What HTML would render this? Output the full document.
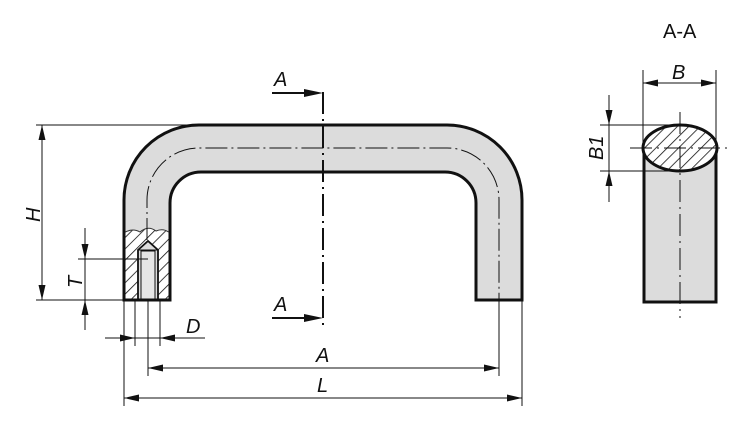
<!DOCTYPE html>
<html><head><style>
html,body{margin:0;padding:0;background:#fff}
svg{display:block}
text{font-family:"Liberation Sans",sans-serif;font-style:italic;font-size:20px;fill:#111}
</style></head><body>
<svg width="750" height="423" viewBox="0 0 750 423" xmlns="http://www.w3.org/2000/svg">
<defs>
<pattern id="h" patternUnits="userSpaceOnUse" width="8" height="8" patternTransform="rotate(45)">
<rect width="8" height="8" fill="#fff"/><line x1="0" y1="0" x2="0" y2="8" stroke="#111" stroke-width="1.6"/>
</pattern>
</defs>
<!-- handle body -->
<path d="M124,300 L124,200 A75,75 0 0 1 199,125 L447,125 A75,75 0 0 1 522,200 L522,300 L476,300 L476,203 A31,31 0 0 0 445,172 L201,172 A31,31 0 0 0 170,203 L170,300 Z" fill="#dcdcdc" stroke="#111" stroke-width="3"/>
<!-- hatched section -->
<path d="M125.5,299 L125.5,232 Q133,228 140,232 Q148,225 156,231 Q163,228 168.5,232 L168.5,299 Z" fill="url(#h)"/>
<path d="M125.5,232 Q133,228 140,232 Q148,225 156,231 Q163,228 168.5,232" fill="none" stroke="#333" stroke-width="1"/>
<path d="M138,300 L138,250 L148,241 L158,250 L158,300 Z" fill="#dcdcdc" stroke="#111" stroke-width="1.8"/>
<line x1="138" y1="250" x2="158" y2="250" stroke="#111" stroke-width="1"/>
<rect x="141" y="251" width="14" height="48" fill="#e6e6e6" stroke="#111" stroke-width="1"/>
<path d="M124,300 L124,228 M170,300 L170,228 M124,300 L170,300" stroke="#111" stroke-width="3" fill="none"/>
<!-- centerline -->
<path d="M147,240 L147,200 A52,52 0 0 1 199,148 L447,148 A52,52 0 0 1 499,200 L499,300" fill="none" stroke="#111" stroke-width="1" stroke-dasharray="22,4,2,4"/>
<line x1="323" y1="92" x2="323" y2="330" stroke="#111" stroke-width="2" stroke-dasharray="22,5,2,5"/>
<!-- A-A markers -->
<line x1="272" y1="93" x2="306" y2="93" stroke="#111" stroke-width="2"/>
<text x="274" y="86" font-size="23">A</text>
<line x1="272" y1="318" x2="306" y2="318" stroke="#111" stroke-width="2"/>
<text x="274" y="311" font-size="23">A</text>
<g stroke="#111" stroke-width="1" fill="none">
<line x1="36" y1="125" x2="199" y2="125"/>
<line x1="36" y1="300" x2="124" y2="300"/>
<line x1="42" y1="125" x2="42" y2="300"/>
<line x1="78" y1="259" x2="148" y2="259"/>
<line x1="85" y1="228" x2="85" y2="330"/>
<line x1="124" y1="300" x2="124" y2="406"/>
<line x1="135" y1="300" x2="135" y2="346"/>
<line x1="148" y1="300" x2="148" y2="376"/>
<line x1="160" y1="300" x2="160" y2="346"/>
<line x1="105" y1="338" x2="205" y2="338"/>
<line x1="499" y1="300" x2="499" y2="376"/>
<line x1="522" y1="300" x2="522" y2="406"/>
<line x1="148" y1="368" x2="499" y2="368"/>
<line x1="124" y1="398" x2="522" y2="398"/>
</g>
<g fill="#111">
<polygon points="42,125 38.5,140 45.5,140"/>
<polygon points="42,300 38.5,285 45.5,285"/>
<polygon points="85,259 81.5,244 88.5,244"/>
<polygon points="85,300 81.5,315 88.5,315"/>
<polygon points="135,338 120,334.5 120,341.5"/>
<polygon points="160,338 175,334.5 175,341.5"/>
<polygon points="148,368 163,364.5 163,371.5"/>
<polygon points="499,368 484,364.5 484,371.5"/>
<polygon points="124,398 139,394.5 139,401.5"/>
<polygon points="522,398 507,394.5 507,401.5"/>
<polygon points="323,93 304,89 304,97"/>
<polygon points="323,318 304,314 304,322"/>
<polygon points="643,83 658,79.5 658,86.5"/>
<polygon points="716,83 701,79.5 701,86.5"/>
<polygon points="609,125 605.5,110 612.5,110"/>
<polygon points="609,171 605.5,186 612.5,186"/>
</g>
<text x="24" y="220" transform="rotate(-90 33 213)">H</text>
<text x="67" y="287" transform="rotate(-90 75 280)">T</text>
<text x="186" y="333">D</text>
<text x="316" y="362">A</text>
<text x="317" y="392">L</text>
<!-- Section A-A -->
<text x="663" y="38" style="font-style:normal" font-size="18">A-A</text>
<rect x="644" y="148" width="72" height="154" fill="#dcdcdc" stroke="#111" stroke-width="3"/>
<ellipse cx="680" cy="148" rx="37" ry="23" fill="url(#h)" stroke="#111" stroke-width="3"/>
<g stroke="#111" stroke-width="1" fill="none">
<line x1="680" y1="112" x2="680" y2="318" stroke-dasharray="22,5,2,5"/>
<line x1="630" y1="148" x2="732" y2="148" stroke-dasharray="22,5,2,5"/>
<line x1="643" y1="70" x2="643" y2="150"/>
<line x1="716" y1="70" x2="716" y2="150"/>
<line x1="643" y1="83" x2="716" y2="83"/>
<line x1="600" y1="125" x2="680" y2="125"/>
<line x1="600" y1="171" x2="680" y2="171"/>
<line x1="609" y1="95" x2="609" y2="202"/>
</g>
<text x="672" y="79">B</text>
<text x="584" y="155" transform="rotate(-90 596 148)">B1</text>
</svg>
</body></html>
